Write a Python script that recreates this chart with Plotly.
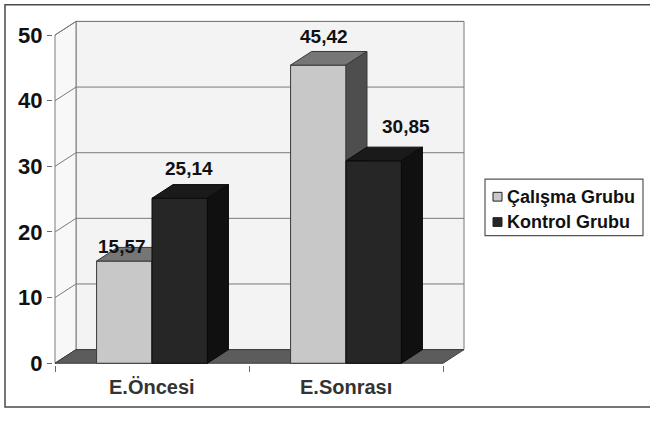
import plotly.graph_objects as go

# ---- data -------------------------------------------------------------
categories = ["E.Öncesi", "E.Sonrası"]
series_names = ["Çalışma Grubu", "Kontrol Grubu"]
calisma = [15.57, 45.42]
kontrol = [25.14, 30.85]
y_ticks = [0, 10, 20, 30, 40, 50]

# ---- styling ------------------------------------------------------------
W, H = 650, 421
FONT = "Liberation Sans"
PX_X = 194.0          # pixels per category
PX_Y = 6.74           # pixels per value unit
ORIGIN = (55.0, 373.0)  # pixel position of (x=-0.5, y=0) on the front plane
DX = 21.0 / PX_X      # depth offset in x units
DY = 14.0 / PX_Y      # depth offset in y units
BAR_W = 1.0 / 3.5     # gap width 150 %
YMAX = max(y_ticks)
PAD_PX = 2.0

x_lo, x_hi = -0.5, len(categories) - 0.5
padx = PAD_PX / PX_X
pady = PAD_PX / PX_Y
xr = [x_lo - padx, x_hi + DX + padx]
yr = [-pady, YMAX + DY + pady]
dom_x = [(ORIGIN[0] - padx * PX_X) / W, (ORIGIN[0] + (xr[1] - x_lo) * PX_X) / W]
dom_y = [(H - (ORIGIN[1] + pady * PX_Y)) / H, (H - (ORIGIN[1] - yr[1] * PX_Y)) / H]

series_styles = [
    dict(front="#c8c8c8", top="#767676", side="#4e4e4e", edge="#3a3a3a"),
    dict(front="#262626", top="#1a1a1a", side="#101010", edge="#0a0a0a"),
]
label_shift = {  # (xshift, yshift) in px for value labels
    (0, 0): (-2, 15), (0, 1): (9, 30), (1, 0): (6, 29), (1, 1): (32, 34),
}

fig = go.Figure()


def poly(xs, ys, fill, line, width=1):
    fig.add_trace(go.Scatter(
        x=xs + [xs[0]], y=ys + [ys[0]], mode="lines", fill="toself",
        fillcolor=fill, line=dict(color=line, width=width),
        hoverinfo="skip", showlegend=False))


def seg(xs, ys, color="#7a7a7a", width=1):
    fig.add_trace(go.Scatter(x=xs, y=ys, mode="lines",
                             line=dict(color=color, width=width),
                             hoverinfo="skip", showlegend=False))


# walls and floor
poly([x_lo + DX, x_hi + DX, x_hi + DX, x_lo + DX],
     [DY, DY, YMAX + DY, YMAX + DY], "#f3f3f3", "#7a7a7a")
poly([x_lo, x_lo + DX, x_lo + DX, x_lo],
     [0, DY, YMAX + DY, YMAX], "#f8f8f8", "#7a7a7a")
for v in y_ticks:
    seg([x_lo, x_lo + DX, x_hi + DX], [v, v + DY, v + DY])
poly([x_lo, x_hi, x_hi + DX, x_lo + DX], [0, 0, DY, DY], "#5c5c5c", "#3c3c3c")

# 3-D columns
for ci in range(len(categories)):
    for si, vals in enumerate([calisma, kontrol]):
        v = vals[ci]
        st = series_styles[si]
        xa = ci - BAR_W + si * BAR_W
        xb = xa + BAR_W
        poly([xa, xb, xb, xa], [0, 0, v, v], st["front"], st["edge"])
        poly([xa, xb, xb + DX, xa + DX], [v, v, v + DY, v + DY], st["top"], st["edge"])
        poly([xb, xb + DX, xb + DX, xb], [0, DY, v + DY, v], st["side"], st["edge"])
        sx, sy = label_shift[(ci, si)]
        fig.add_annotation(
            x=(xa + xb) / 2, y=v, xref="x", yref="y",
            text=f"{v:.2f}".replace(".", ","), showarrow=False,
            xshift=sx, yshift=sy, yanchor="middle",
            font=dict(family=FONT, size=19, color="#111111", weight="bold"))

# category labels
for ci, name in enumerate(categories):
    fig.add_annotation(
        x=ci, y=(H - 397) / H, xref="x", yref="paper", text=name,
        showarrow=False, yanchor="middle",
        font=dict(family=FONT, size=20, color="#333333", weight="bold"))

# legend box
lx0, lx1, ly0, ly1 = 485, 643, 184, 242
fig.add_shape(type="rect", xref="paper", yref="paper",
              x0=lx0 / W, x1=lx1 / W, y0=1 - ly1 / H, y1=1 - ly0 / H,
              line=dict(color="#555555", width=1.2), fillcolor="white")
for si, name in enumerate(series_names):
    cy = 202 + si * 26
    fig.add_shape(type="rect", xref="paper", yref="paper",
                  x0=493 / W, x1=502 / W, y0=1 - (cy + 4.5) / H, y1=1 - (cy - 4.5) / H,
                  line=dict(color="#222222", width=1),
                  fillcolor=series_styles[si]["front"])
    fig.add_annotation(
        x=505 / W, y=1 - cy / H, xref="paper", yref="paper", text=name,
        showarrow=False, xanchor="left", yanchor="middle",
        font=dict(family=FONT, size=18, color="#111111", weight="bold"))

# outer frame
fig.add_shape(type="rect", xref="paper", yref="paper",
              x0=5 / W, x1=1.02, y0=1 - 418 / H, y1=1 - 5 / H,
              line=dict(color="#4a4a4a", width=1.5), layer="below")

fig.update_layout(
    width=W, height=H, margin=dict(l=0, r=0, t=0, b=0),
    paper_bgcolor="white", plot_bgcolor="rgba(0,0,0,0)",
    showlegend=False,
    xaxis=dict(domain=dom_x, range=xr, showgrid=False, zeroline=False,
               showline=False, tickvals=[x_lo + k for k in range(len(categories) + 1)],
               ticktext=[""] * (len(categories) + 1), ticks="outside",
               ticklen=6, tickcolor="#6a6a6a", fixedrange=True),
    yaxis=dict(domain=dom_y, range=yr, showgrid=False, zeroline=False,
               showline=False, tickvals=y_ticks, ticks="outside", ticklen=5,
               tickcolor="#6a6a6a", ticklabelstandoff=0,
               tickfont=dict(family=FONT, size=22, color="#111111", weight="bold"),
               fixedrange=True),
)

fig.write_html("out.html")
